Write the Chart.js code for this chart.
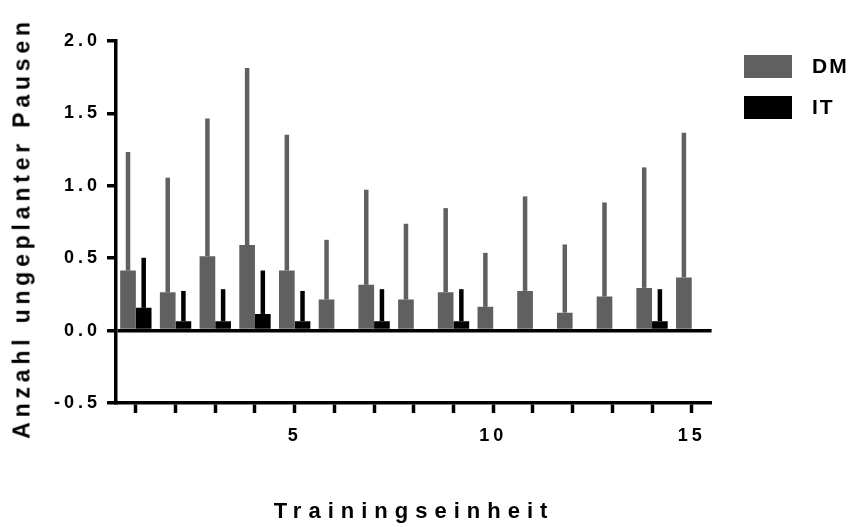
<!DOCTYPE html>
<html>
<head>
<meta charset="utf-8">
<script src="https://cdn.jsdelivr.net/npm/chart.js@4.4.1/dist/chart.umd.min.js"></script>
<style>
  html, body { margin: 0; padding: 0; background: #fff; }
  #wrap { position: relative; width: 854px; height: 527px; font-family: "Liberation Sans", Arial, sans-serif; }
  #chart { position: absolute; left: 0; top: 0; }
  .title { position: absolute; font-weight: bold; color: #000; white-space: nowrap; }
  #ytitle { left: 22px; top: 228px; font-size: 23px; letter-spacing: 4.8px; transform: translate(-50%, -50%) rotate(-90deg); }
  #xtitle { left: 414px; top: 511px; font-size: 22px; letter-spacing: 7px; transform: translate(-50%, -50%); }
  .legend { position: absolute; left: 744px; display: flex; align-items: center; }
  .legend .box { width: 48px; height: 23px; }
  .legend span { margin-left: 20px; font-size: 21px; font-weight: bold; letter-spacing: 2px; }
</style>
</head>
<body>
<div id="wrap">
  <canvas id="chart" width="854" height="527"></canvas>
  <div class="title" id="ytitle">Anzahl ungeplanter Pausen</div>
  <div class="title" id="xtitle">Trainingseinheit</div>
  <div class="legend" style="top:54px"><div class="box" style="background:#606060"></div><span>DM</span></div>
  <div class="legend" style="top:95px"><div class="box" style="background:#000"></div><span>IT</span></div>
</div>
<script>
// sessions 1..15, only 5/10/15 get a label
const sessions = ["1", "2", "3", "4", "5", "6", "7", "8", "9", "10", "11", "12", "13", "14", "15"];
const shownLabels = ["5", "10", "15"];

// mean and SD per session
const dmMean = [0.415, 0.265, 0.514, 0.592, 0.415, 0.214, 0.316, 0.214, 0.265, 0.164, 0.274, 0.124, 0.235, 0.295, 0.367];
const dmSD   = [0.818, 0.791, 0.950, 1.222, 0.938, 0.413, 0.657, 0.524, 0.581, 0.373, 0.653, 0.471, 0.650, 0.832, 1.000];
const itMean = [0.157, 0.065, 0.065, 0.115, 0.065, 0, 0.065, 0, 0.065, 0, 0, 0, 0, 0.065, 0];
const itSD   = [0.346, 0.209, 0.221, 0.300, 0.209, 0, 0.221, 0, 0.221, 0, 0, 0, 0, 0.221, 0];

const yTicks = [-0.5, 0, 0.5, 1.0, 1.5, 2.0];

const DM_COLOR = "#606060";
const IT_COLOR = "#000000";

// upper error bar only, drawn from the bar top
const errorBars = {
  id: "errorBars",
  afterDatasetsDraw(chart) {
    const { ctx, scales: { y } } = chart;
    chart.data.datasets.forEach((ds, di) => {
      const meta = chart.getDatasetMeta(di);
      meta.data.forEach((bar, i) => {
        const sd = ds.sd[i];
        if (!sd) return;
        const top = y.getPixelForValue(ds.data[i] + sd);
        ctx.save();
        ctx.strokeStyle = ds.backgroundColor;
        ctx.lineWidth = 4.5;
        ctx.beginPath();
        ctx.moveTo(bar.x, bar.y);
        ctx.lineTo(bar.x, top);
        ctx.stroke();
        ctx.restore();
      });
    });
  }
};

const spacing = {
  id: "spacing",
  beforeDraw(chart) { chart.ctx.letterSpacing = "4px"; }
};

new Chart(document.getElementById("chart"), {
  type: "bar",
  data: {
    labels: sessions,
    datasets: [
      { label: "DM", data: dmMean, sd: dmSD, backgroundColor: DM_COLOR },
      { label: "IT", data: itMean, sd: itSD, backgroundColor: IT_COLOR }
    ]
  },
  options: {
    responsive: false,
    animation: false,
    layout: { padding: { left: 0, top: 41, right: 142.4, bottom: 0 } },
    datasets: { bar: { categoryPercentage: 0.79, barPercentage: 1.0 } },
    plugins: { legend: { display: false }, tooltip: { enabled: false } },
    scales: {
      x: {
        afterFit(s) { s.height = 124; },
        grid: { offset: false, drawOnChartArea: false, tickLength: 10, tickColor: "#000", tickWidth: 3.5 },
        border: { color: "#000", width: 3.5 },
        ticks: {
          autoSkip: false, maxRotation: 0, padding: 12, color: "#000",
          font: { family: "Liberation Sans", size: 18, weight: "bold" },
          callback(v) { const l = sessions[v]; return shownLabels.includes(l) ? l : ""; }
        }
      },
      y: {
        min: -0.5, max: 2.0,
        afterFit(s) { s.width = 116; },
        afterBuildTicks(s) { s.ticks = yTicks.map(v => ({ value: v })); },
        grid: {
          drawOnChartArea: true,
          color: c => (c.tick && c.tick.value === 0 ? "#000" : "rgba(0,0,0,0)"),
          lineWidth: 3.5, tickLength: 9, tickColor: "#000", tickWidth: 3.5
        },
        border: { color: "#000", width: 3.5 },
        ticks: {
          padding: 6, color: "#000",
          font: { family: "Liberation Sans", size: 18, weight: "bold" },
          callback: v => v.toFixed(1)
        }
      }
    }
  },
  plugins: [errorBars, spacing]
});
</script>
</body>
</html>
